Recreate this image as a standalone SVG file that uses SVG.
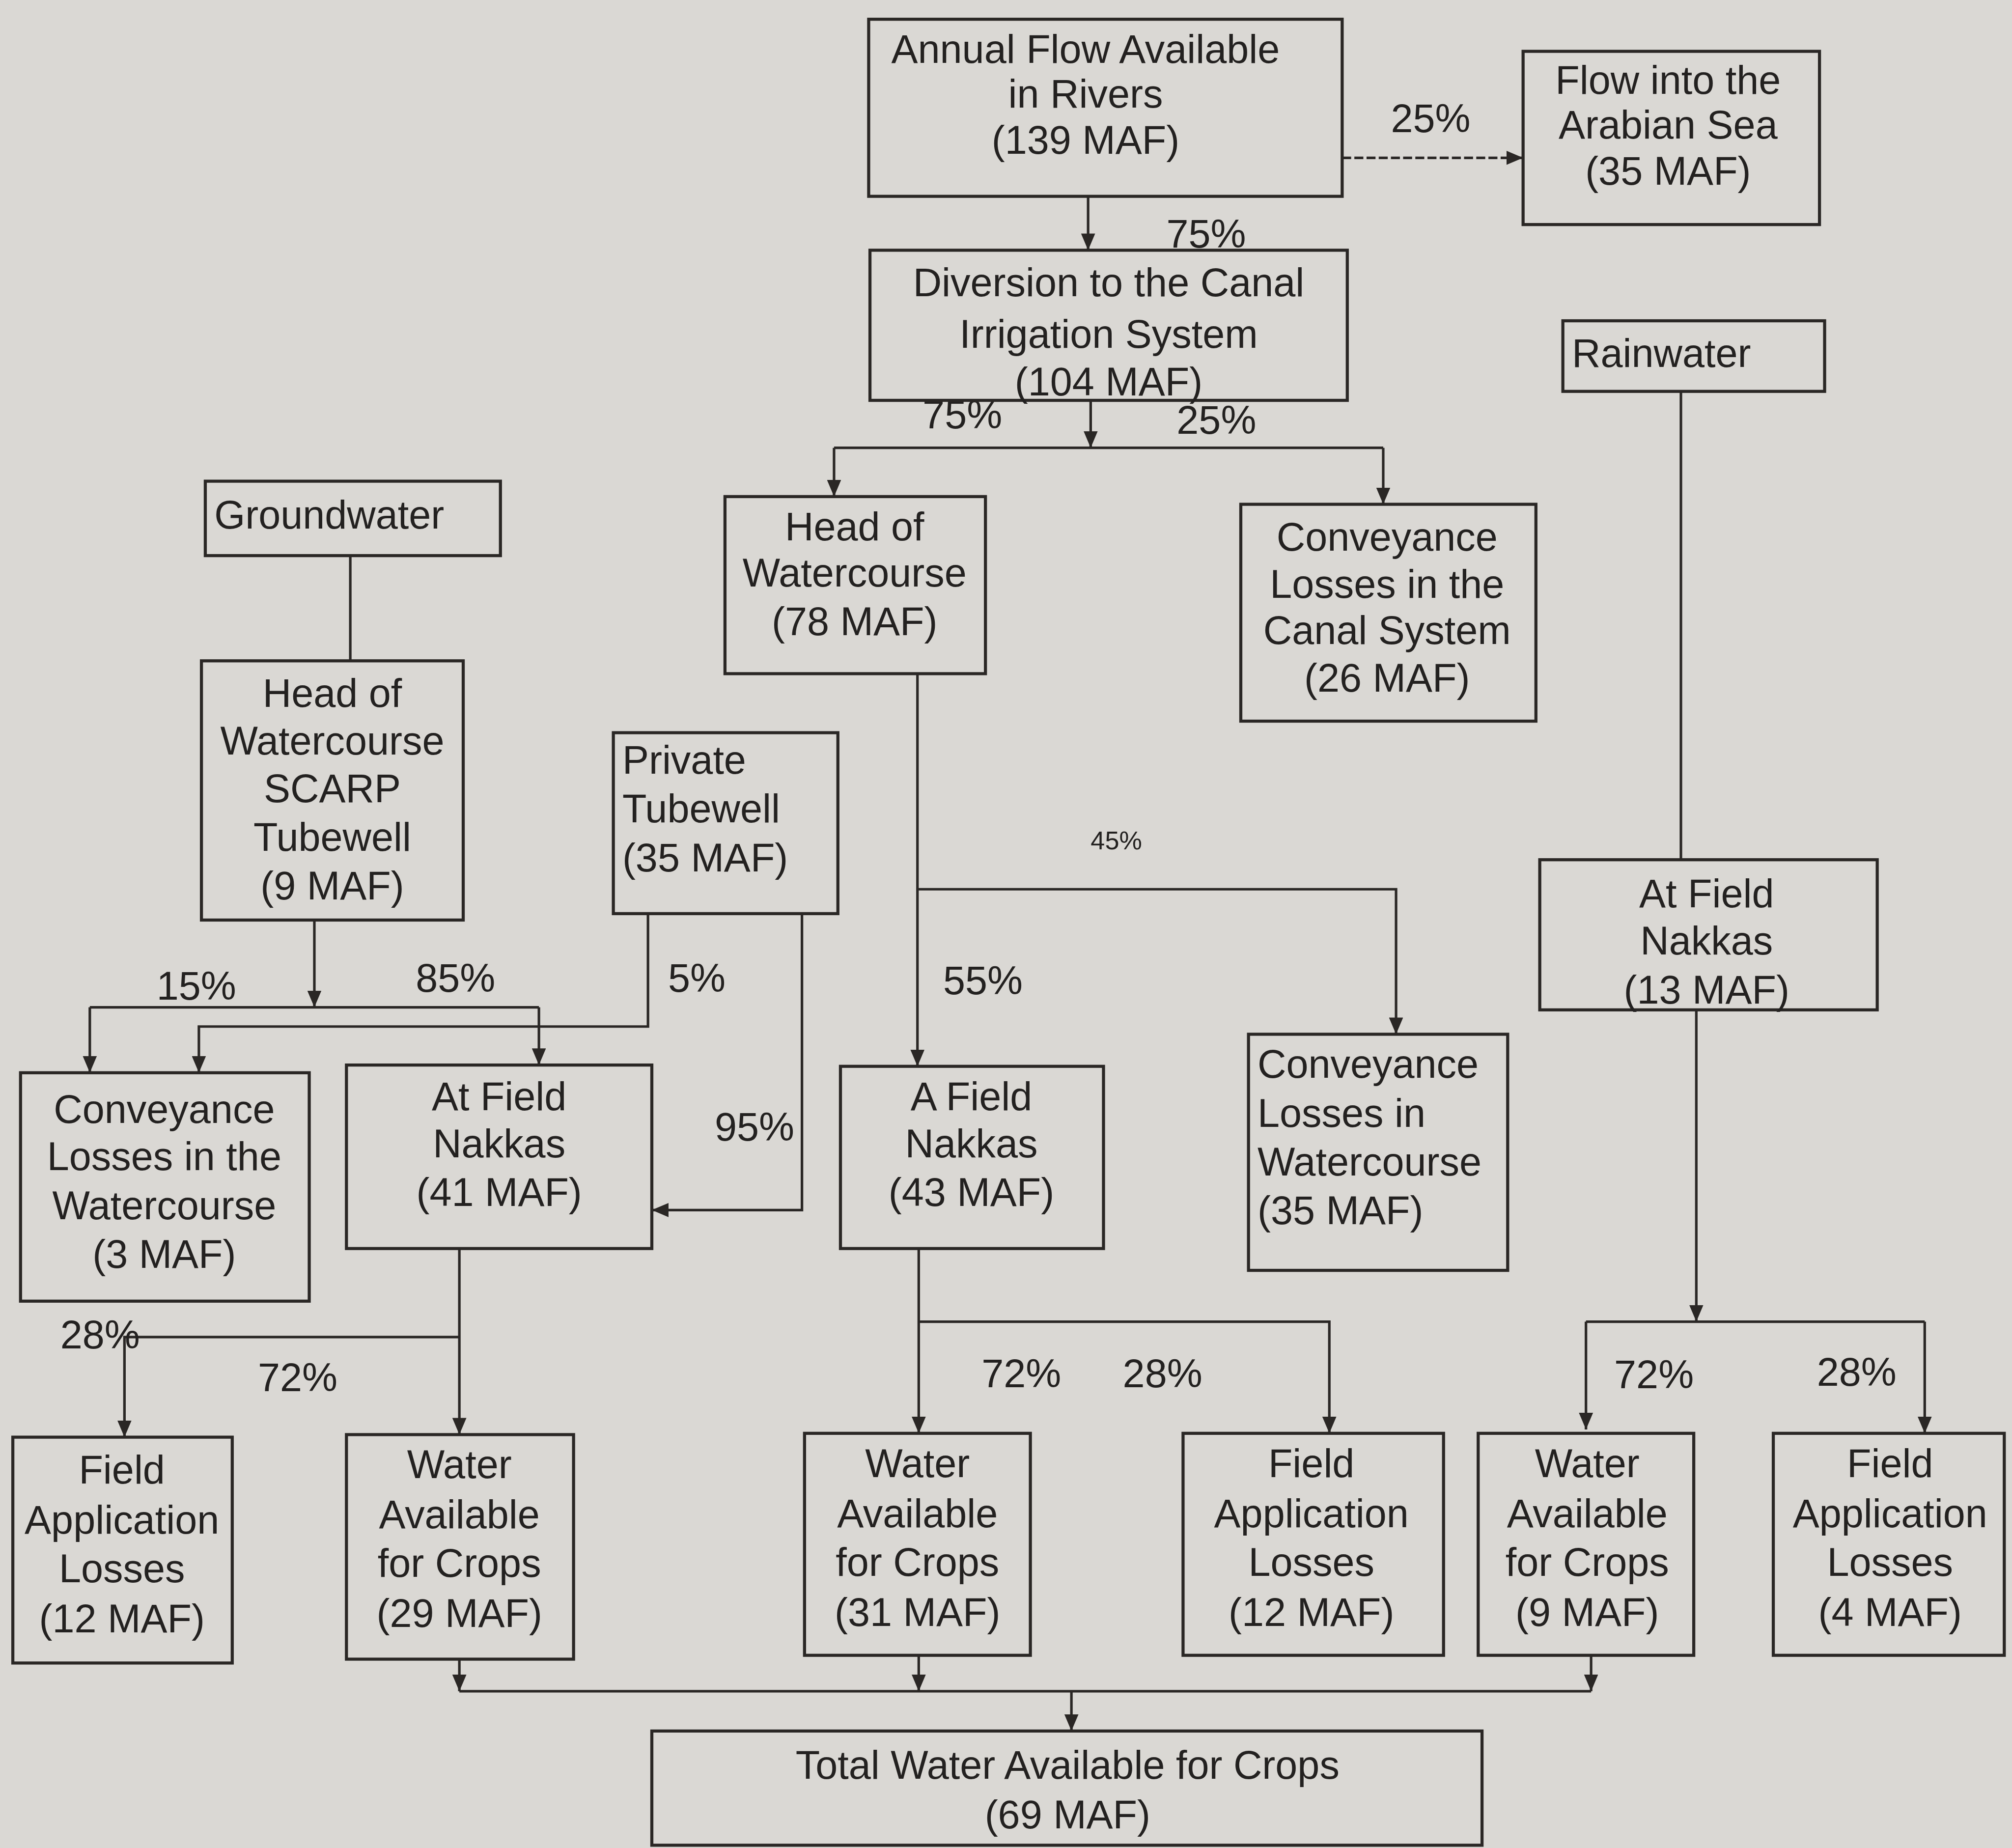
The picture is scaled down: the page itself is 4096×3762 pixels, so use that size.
<svg xmlns="http://www.w3.org/2000/svg" width="4096" height="3762" viewBox="0 0 4096 3762">
<style>
.box{fill:none;stroke:#2a2725;stroke-width:2.4}
.c{fill:none;stroke:#2a2725;stroke-width:2}
.d{stroke-dasharray:7 2.5}
.t{font-family:"Liberation Sans",Arial,sans-serif;font-size:31px;fill:#232120;text-anchor:middle}
.l{text-anchor:start}
.p{font-family:"Liberation Sans",Arial,sans-serif;font-size:31px;fill:#232120;text-anchor:middle}
.s{font-size:20px}
</style>
<defs>
<marker id="arr" markerUnits="userSpaceOnUse" markerWidth="13" markerHeight="11" refX="13" refY="5.5" orient="auto">
<path d="M0,0 L13,5.5 L0,11 z" fill="#2a2725"/>
</marker>
</defs>
<rect x="0" y="0" width="4096" height="3762" fill="#dad8d4"/>
<g transform="scale(2.6122)">
<g id="connectors">
<path class="c d" d="M1046,123 H1187" marker-end="url(#arr)"/>
<path class="c" d="M848,153 V195" marker-end="url(#arr)"/>
<path class="c" d="M850,312 V349" marker-end="url(#arr)"/>
<path class="c" d="M650,349 H1078"/>
<path class="c" d="M650,349 V387" marker-end="url(#arr)"/>
<path class="c" d="M1078,349 V393" marker-end="url(#arr)"/>
<path class="c" d="M273,433 V515"/>
<path class="c" d="M1310,305 V670"/>
<path class="c" d="M715,525 V831" marker-end="url(#arr)"/>
<path class="c" d="M715,693 H1088 V806" marker-end="url(#arr)"/>
<path class="c" d="M245,717 V785" marker-end="url(#arr)"/>
<path class="c" d="M70,785 H420"/>
<path class="c" d="M70,785 V836" marker-end="url(#arr)"/>
<path class="c" d="M420,785 V830" marker-end="url(#arr)"/>
<path class="c" d="M505,712 V800 H155 V836" marker-end="url(#arr)"/>
<path class="c" d="M625,712 V943 H508" marker-end="url(#arr)"/>
<path class="c" d="M358,973 V1118" marker-end="url(#arr)"/>
<path class="c" d="M358,1042 H97 V1120" marker-end="url(#arr)"/>
<path class="c" d="M716,973 V1117" marker-end="url(#arr)"/>
<path class="c" d="M716,1030 H1036 V1117" marker-end="url(#arr)"/>
<path class="c" d="M1322,787 V1030" marker-end="url(#arr)"/>
<path class="c" d="M1236,1030 H1500"/>
<path class="c" d="M1236,1030 V1114" marker-end="url(#arr)"/>
<path class="c" d="M1500,1030 V1117" marker-end="url(#arr)"/>
<path class="c" d="M358,1293 V1318" marker-end="url(#arr)"/>
<path class="c" d="M358,1318 H1240"/>
<path class="c" d="M716,1290 V1318" marker-end="url(#arr)"/>
<path class="c" d="M1240,1290 V1318" marker-end="url(#arr)"/>
<path class="c" d="M835,1318 V1349" marker-end="url(#arr)"/>
<text class="p" x="1115" y="103">25%</text>
<text class="p" x="940" y="193">75%</text>
<text class="p" x="750" y="334">75%</text>
<text class="p" x="948" y="338">25%</text>
<text class="p s" x="870" y="662">45%</text>
<text class="p" x="766" y="775">55%</text>
<text class="p" x="153" y="779">15%</text>
<text class="p" x="355" y="773">85%</text>
<text class="p" x="543" y="773">5%</text>
<text class="p" x="588" y="889">95%</text>
<text class="p" x="78" y="1051">28%</text>
<text class="p" x="232" y="1084">72%</text>
<text class="p" x="796" y="1081">72%</text>
<text class="p" x="906" y="1081">28%</text>
<text class="p" x="1289" y="1082">72%</text>
<text class="p" x="1447" y="1080">28%</text>
</g>
<g id="annual-flow"><rect class="box" x="677" y="15" width="369" height="138"/><text class="t"><tspan x="846" y="49">Annual Flow Available</tspan><tspan x="846" y="84">in Rivers</tspan><tspan x="846" y="120">(139 MAF)</tspan></text></g>
<g id="arabian-sea"><rect class="box" x="1187" y="40" width="231" height="135"/><text class="t"><tspan x="1300" y="73">Flow into the</tspan><tspan x="1300" y="108">Arabian Sea</tspan><tspan x="1300" y="144">(35 MAF)</tspan></text></g>
<g id="diversion"><rect class="box" x="678" y="195" width="372" height="117"/><text class="t"><tspan x="864" y="231">Diversion to the Canal</tspan><tspan x="864" y="271">Irrigation System</tspan><tspan x="864" y="308">(104 MAF)</tspan></text></g>
<g id="rainwater"><rect class="box" x="1218" y="250" width="204" height="55"/><text class="t l" x="1225" y="286">Rainwater</text></g>
<g id="groundwater"><rect class="box" x="160" y="375" width="230" height="58"/><text class="t l" x="167" y="412">Groundwater</text></g>
<g id="head-watercourse"><rect class="box" x="565" y="387" width="203" height="138"/><text class="t"><tspan x="666" y="421">Head of</tspan><tspan x="666" y="457">Watercourse</tspan><tspan x="666" y="495">(78 MAF)</tspan></text></g>
<g id="conveyance-canal"><rect class="box" x="967" y="393" width="230" height="169"/><text class="t"><tspan x="1081" y="429">Conveyance</tspan><tspan x="1081" y="466">Losses in the</tspan><tspan x="1081" y="502">Canal System</tspan><tspan x="1081" y="539">(26 MAF)</tspan></text></g>
<g id="scarp-tubewell"><rect class="box" x="157" y="515" width="204" height="202"/><text class="t"><tspan x="259" y="551">Head of</tspan><tspan x="259" y="588">Watercourse</tspan><tspan x="259" y="625">SCARP</tspan><tspan x="259" y="663">Tubewell</tspan><tspan x="259" y="701">(9 MAF)</tspan></text></g>
<g id="private-tubewell"><rect class="box" x="478" y="571" width="175" height="141"/><text class="t l"><tspan x="485" y="603">Private</tspan><tspan x="485" y="641">Tubewell</tspan><tspan x="485" y="679">(35 MAF)</tspan></text></g>
<g id="field-nakkas-13"><rect class="box" x="1200" y="670" width="263" height="117"/><text class="t"><tspan x="1330" y="707">At Field</tspan><tspan x="1330" y="744">Nakkas</tspan><tspan x="1330" y="782">(13 MAF)</tspan></text></g>
<g id="conveyance-watercourse-3"><rect class="box" x="16" y="836" width="225" height="178"/><text class="t"><tspan x="128" y="875">Conveyance</tspan><tspan x="128" y="912">Losses in the</tspan><tspan x="128" y="950">Watercourse</tspan><tspan x="128" y="988">(3 MAF)</tspan></text></g>
<g id="field-nakkas-41"><rect class="box" x="270" y="830" width="238" height="143"/><text class="t"><tspan x="389" y="865">At Field</tspan><tspan x="389" y="902">Nakkas</tspan><tspan x="389" y="940">(41 MAF)</tspan></text></g>
<g id="field-nakkas-43"><rect class="box" x="655" y="831" width="205" height="142"/><text class="t"><tspan x="757" y="865">A Field</tspan><tspan x="757" y="902">Nakkas</tspan><tspan x="757" y="940">(43 MAF)</tspan></text></g>
<g id="conveyance-watercourse-35"><rect class="box" x="973" y="806" width="202" height="184"/><text class="t l"><tspan x="980" y="840">Conveyance</tspan><tspan x="980" y="878">Losses in</tspan><tspan x="980" y="916">Watercourse</tspan><tspan x="980" y="954">(35 MAF)</tspan></text></g>
<g id="field-losses-12a"><rect class="box" x="10" y="1120" width="171" height="176"/><text class="t"><tspan x="95" y="1156">Field</tspan><tspan x="95" y="1195">Application</tspan><tspan x="95" y="1233">Losses</tspan><tspan x="95" y="1272">(12 MAF)</tspan></text></g>
<g id="water-crops-29"><rect class="box" x="270" y="1118" width="177" height="175"/><text class="t"><tspan x="358" y="1152">Water</tspan><tspan x="358" y="1191">Available</tspan><tspan x="358" y="1229">for Crops</tspan><tspan x="358" y="1268">(29 MAF)</tspan></text></g>
<g id="water-crops-31"><rect class="box" x="627" y="1117" width="176" height="173"/><text class="t"><tspan x="715" y="1151">Water</tspan><tspan x="715" y="1190">Available</tspan><tspan x="715" y="1228">for Crops</tspan><tspan x="715" y="1267">(31 MAF)</tspan></text></g>
<g id="field-losses-12b"><rect class="box" x="922" y="1117" width="203" height="173"/><text class="t"><tspan x="1022" y="1151">Field</tspan><tspan x="1022" y="1190">Application</tspan><tspan x="1022" y="1228">Losses</tspan><tspan x="1022" y="1267">(12 MAF)</tspan></text></g>
<g id="water-crops-9"><rect class="box" x="1152" y="1117" width="168" height="173"/><text class="t"><tspan x="1237" y="1151">Water</tspan><tspan x="1237" y="1190">Available</tspan><tspan x="1237" y="1228">for Crops</tspan><tspan x="1237" y="1267">(9 MAF)</tspan></text></g>
<g id="field-losses-4"><rect class="box" x="1382" y="1117" width="180" height="173"/><text class="t"><tspan x="1473" y="1151">Field</tspan><tspan x="1473" y="1190">Application</tspan><tspan x="1473" y="1228">Losses</tspan><tspan x="1473" y="1267">(4 MAF)</tspan></text></g>
<g id="total-water"><rect class="box" x="508" y="1349" width="647" height="89"/><text class="t"><tspan x="832" y="1386">Total Water Available for Crops</tspan><tspan x="832" y="1425">(69 MAF)</tspan></text></g>
</g>
</svg>
